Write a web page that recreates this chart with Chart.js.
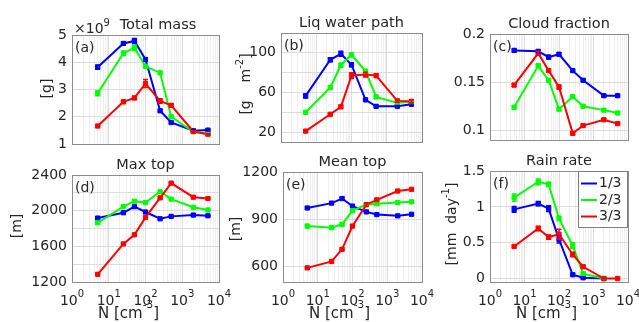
<!DOCTYPE html>
<html>
<head>
<meta charset="utf-8">
<script src="https://cdn.jsdelivr.net/npm/chart.js@4.4.1/dist/chart.umd.min.js"></script>
<style>
  body { margin: 0; background: #fff; }
  #fig { position: relative; width: 639px; height: 322px; overflow: hidden; background: #fff; }
  #fig canvas { position: absolute; }
</style>
</head>
<body>
<div id="fig"></div>
<script>
// droplet number N [cm^-3], shared by all panels
var N = [5, 25, 50, 100, 250, 500, 2000, 5000];
var seriesNames = ['1/3', '2/3', '3/3'];
var seriesColors = ['#0000ff', '#00ff00', '#ff0000'];
var xTickExps = ['0', '1', '2', '3', '4'];

// (a) total mass, x1e9 g
var mass1 = [3.82, 4.69, 4.78, 4.10, 2.22, 1.79, 1.49, 1.51];
var mass2 = [2.86, 4.33, 4.53, 3.85, 3.61, 2.00, 1.45, 1.39];
var mass3 = [1.66, 2.55, 2.69, 3.22, 2.58, 2.42, 1.46, 1.36];
var massErr1 = [0.08, 0.05, 0.09, 0.06, 0.05, 0.04, 0.03, 0.03];
var massErr2 = [0.09, 0.08, 0.10, 0.06, 0.05, 0.05, 0.02, 0.02];
var massErr3 = [0.03, 0.06, 0.06, 0.15, 0.08, 0.05, 0.03, 0.02];

// (b) liquid water path, g m^-2
var lwp1 = [56.5, 93, 99, 88, 52.5, 46, 46, 48];
var lwp2 = [40, 65, 87.5, 98, 81.5, 55.5, 49.5, 50.5];
var lwp3 = [21, 38, 45.5, 77, 78, 77, 51.5, 51];
var lwpErr1 = [2, 2, 2.5, 2, 1.5, 1, 1, 1];
var lwpErr2 = [1.5, 1.5, 2, 2, 1.5, 1, 1, 1];
var lwpErr3 = [1, 1, 1.5, 3, 2.5, 2, 1.5, 1.5];

// (c) cloud fraction
var cf1 = [0.183, 0.182, 0.176, 0.179, 0.162, 0.152, 0.136, 0.136];
var cf2 = [0.124, 0.167, 0.152, 0.122, 0.135, 0.125, 0.121, 0.118];
var cf3 = [0.147, 0.180, 0.162, 0.145, 0.097, 0.105, 0.111, 0.107];
var cfErr1 = [0.0015, 0.0015, 0.002, 0.0015, 0.001, 0.001, 0.001, 0.001];
var cfErr2 = [0.0015, 0.0015, 0.0015, 0.0015, 0.001, 0.001, 0.001, 0.001];
var cfErr3 = [0.0015, 0.002, 0.0015, 0.002, 0.0015, 0.001, 0.001, 0.001];

// (d) max top, m
var maxTop1 = [1917, 1977, 2045, 1985, 1909, 1936, 1951, 1943];
var maxTop2 = [1864, 2045, 2106, 2091, 2212, 2129, 2038, 2008];
var maxTop3 = [1286, 1627, 1730, 1924, 2144, 2309, 2151, 2136];
var maxTopErr1 = [8, 8, 10, 8, 6, 6, 5, 5];
var maxTopErr2 = [10, 8, 10, 8, 8, 6, 5, 5];
var maxTopErr3 = [6, 12, 12, 10, 10, 8, 6, 6];

// (e) mean top, m
var meanTop1 = [971, 1002, 1031, 983, 946, 929, 921, 931];
var meanTop2 = [856, 846, 867, 954, 992, 998, 1006, 1010];
var meanTop3 = [590, 631, 708, 856, 992, 1023, 1079, 1090];
var meanTopErr1 = [8, 8, 8, 6, 5, 5, 4, 4];
var meanTopErr2 = [10, 8, 8, 6, 5, 5, 4, 4];
var meanTopErr3 = [5, 8, 8, 8, 6, 5, 4, 4];

// (f) rain rate, mm day^-1
var rain1 = [0.966, 1.046, 0.976, 0.548, 0.056, 0.014, 0.003, null];
var rain2 = [1.13, 1.35, 1.315, 0.84, 0.46, 0.07, 0.003, null];
var rain3 = [0.45, 0.70, 0.58, 0.62, 0.338, 0.167, 0.003, 0.003];
var rainErr1 = [0.04, 0.03, 0.04, 0.05, 0.02, 0.01, 0.003, 0];
var rainErr2 = [0.05, 0.04, 0.03, 0.03, 0.04, 0.02, 0.003, 0];
var rainErr3 = [0.015, 0.03, 0.03, 0.07, 0.03, 0.02, 0.003, 0.003];

var TXT = '#262626';
var FAMILY = '"DejaVu Sans"';
function font(size) { return size + 'px ' + FAMILY; }

// frame = [left, top, right, bottom] of the plot box in page pixels
var panels = [
  { tag: '(a)', title: 'Total mass', titleX: 158, frame: [72, 35, 219, 144],
    yMin: 1, yMax: 5, yGrid: [1, 2, 3, 4, 5], yLabels: [1, 2, 3, 4, 5],
    yTitle: [['[g]', 0]], yTitleX: 51, yTitleY: 88.5, exponent: true,
    values: [mass1, mass2, mass3], errs: [massErr1, massErr2, massErr3] },
  { tag: '(b)', title: 'Liq water path', frame: [281, 33, 422, 142],
    yMin: 10, yMax: 120, yGrid: [20, 40, 60, 80, 100, 120], yLabels: [20, 60, 100],
    yTitle: [['[g    m', 0], ['-2', 1], [']', 0]], yTitleX: 250, yTitleY: 84,
    values: [lwp1, lwp2, lwp3], errs: [lwpErr1, lwpErr2, lwpErr3] },
  { tag: '(c)', title: 'Cloud fraction', frame: [490, 34, 628, 140],
    yMin: 0.09, yMax: 0.2, yGrid: [0.1, 0.15, 0.2], yLabels: [0.1, 0.15, 0.2],
    values: [cf1, cf2, cf3], errs: [cfErr1, cfErr2, cfErr3] },
  { tag: '(d)', title: 'Max top', frame: [72, 175, 219, 282], xLabels: true,
    yMin: 1200, yMax: 2400, yGrid: [1200, 1400, 1600, 1800, 2000, 2200, 2400], yLabels: [1200, 1600, 2000, 2400],
    yTitle: [['[m]', 0]], yTitleX: 21, yTitleY: 226,
    values: [maxTop1, maxTop2, maxTop3], errs: [maxTopErr1, maxTopErr2, maxTopErr3] },
  { tag: '(e)', title: 'Mean top', frame: [283, 172, 422, 282], xLabels: true,
    yMin: 500, yMax: 1200, yGrid: [600, 900, 1200], yLabels: [600, 900, 1200],
    yTitle: [['[m]', 0]], yTitleX: 240, yTitleY: 229,
    values: [meanTop1, meanTop2, meanTop3], errs: [meanTopErr1, meanTopErr2, meanTopErr3] },
  { tag: '(f)', title: 'Rain rate', frame: [490, 171, 628, 282], xLabels: true, legend: true,
    yMin: -0.045, yMax: 1.5, yGrid: [0, 0.5, 1, 1.5], yLabels: [0, 0.5, 1, 1.5],
    yTitle: [['[mm  day', 0], ['-1', 1], [']', 0]], yTitleX: 456, yTitleY: 224,
    values: [rain1, rain2, rain3], errs: [rainErr1, rainErr2, rainErr3] }
];

var PAD_L = 72, PAD_T = 40, PAD_R = 16, PAD_B = 42;

function richWidth(ctx, parts, size, supSize) {
  var w = 0;
  parts.forEach(function (p) {
    ctx.font = font(p[1] ? supSize : size);
    w += ctx.measureText(p[0]).width;
  });
  return w;
}

function drawRich(ctx, parts, x, y, size, supSize, supShift) {
  var cx = x;
  parts.forEach(function (p) {
    ctx.font = font(p[1] ? supSize : size);
    ctx.fillText(p[0], cx, p[1] ? y - supShift : y);
    cx += ctx.measureText(p[0]).width;
  });
}

function decoPlugin(p, ox, oy) {
  return {
    id: 'deco',
    afterDatasetsDraw: function (chart) {
      var ctx = chart.ctx, xs = chart.scales.x, ys = chart.scales.y;
      ctx.save();
      ctx.lineWidth = 1.5;
      for (var s = 0; s < 3; s++) {
        ctx.strokeStyle = seriesColors[s];
        p.values[s].forEach(function (v, j) {
          if (v === null) return;
          var e = p.errs[s][j];
          var x = xs.getPixelForValue(N[j]);
          var y1 = ys.getPixelForValue(v - e), y2 = ys.getPixelForValue(v + e);
          ctx.beginPath();
          ctx.moveTo(x, y1); ctx.lineTo(x, y2);
          ctx.moveTo(x - 2.5, y1); ctx.lineTo(x + 2.5, y1);
          ctx.moveTo(x - 2.5, y2); ctx.lineTo(x + 2.5, y2);
          ctx.stroke();
        });
      }
      ctx.restore();
    },
    afterDraw: function (chart) {
      var ctx = chart.ctx, a = chart.chartArea, xs = chart.scales.x;
      ctx.save();
      // box
      ctx.strokeStyle = '#8c8c8c';
      ctx.lineWidth = 1;
      ctx.strokeRect(Math.round(a.left) + 0.5, Math.round(a.top) + 0.5,
        Math.round(a.right - a.left), Math.round(a.bottom - a.top));

      ctx.fillStyle = TXT;
      ctx.textBaseline = 'alphabetic';
      // title
      ctx.font = font(14.5);
      ctx.textAlign = 'center';
      var tx = p.titleX !== undefined ? p.titleX - ox : (a.left + a.right) / 2;
      ctx.fillText(p.title, tx, a.top - 6);
      // panel tag
      ctx.textAlign = 'left';
      ctx.font = font(14);
      ctx.fillText(p.tag, a.left + 3, a.top + 17);
      // exponent
      if (p.exponent) {
        drawRich(ctx, [['\u00d710', 0], ['9', 1]], a.left + 2, a.top - 2, 14, 10, 7);
      }
      // y title, rotated
      if (p.yTitle) {
        var w = richWidth(ctx, p.yTitle, 14, 10);
        ctx.save();
        ctx.translate(p.yTitleX - ox, p.yTitleY - oy);
        ctx.rotate(-Math.PI / 2);
        drawRich(ctx, p.yTitle, -w / 2, 0, 14, 10, 7);
        ctx.restore();
      }
      // x tick labels and x title
      if (p.xLabels) {
        xTickExps.forEach(function (ex) {
          var parts = [['10', 0], [ex, 1]];
          var lw = richWidth(ctx, parts, 14, 10);
          var px = xs.getPixelForValue(Math.pow(10, +ex));
          drawRich(ctx, parts, px - lw / 2, a.bottom + 23, 14, 10, 8);
        });
        drawRich(ctx, [['N [cm', 0], ['-3', 1], [']', 0]], a.left + 26, a.bottom + 36, 15, 10.5, 10);
      }
      // legend
      if (p.legend) {
        var bw = 49, bh = 56, bx = Math.round(a.right) - bw - 1, by = Math.round(a.top);
        ctx.fillStyle = '#fff';
        ctx.fillRect(bx, by, bw, bh);
        ctx.strokeStyle = '#7f7f7f';
        ctx.strokeRect(bx + 0.5, by + 0.5, bw, bh);
        ctx.textBaseline = 'middle';
        ctx.font = font(14);
        for (var s = 0; s < 3; s++) {
          var ly = by + 12.5 + s * 16.5;
          ctx.strokeStyle = seriesColors[s];
          ctx.lineWidth = 2;
          ctx.beginPath();
          ctx.moveTo(bx + 3, ly); ctx.lineTo(bx + 19, ly);
          ctx.stroke();
          ctx.fillStyle = TXT;
          ctx.fillText(seriesNames[s], bx + 21, ly);
        }
      }
      ctx.restore();
    }
  };
}

function isDecade(v) {
  var l = Math.log10(v);
  return Math.abs(l - Math.round(l)) < 1e-9;
}

var fig = document.getElementById('fig');
panels.forEach(function (p) {
  var f = p.frame;
  var ox = f[0] - PAD_L, oy = f[1] - PAD_T;
  var cw = (f[2] - f[0]) + PAD_L + PAD_R, chh = (f[3] - f[1]) + PAD_T + PAD_B;
  var cv = document.createElement('canvas');
  cv.width = cw; cv.height = chh;
  cv.style.left = ox + 'px'; cv.style.top = oy + 'px';
  cv.style.width = cw + 'px'; cv.style.height = chh + 'px';
  fig.appendChild(cv);

  var datasets = p.values.map(function (vals, s) {
    return {
      label: seriesNames[s],
      data: vals.map(function (v, j) { return { x: N[j], y: v }; }),
      borderColor: seriesColors[s],
      backgroundColor: seriesColors[s],
      borderWidth: 2,
      pointStyle: 'rect',
      pointRadius: 3,
      pointBorderWidth: 1,
      pointBackgroundColor: seriesColors[s],
      tension: 0,
      spanGaps: false,
      order: 3 - s
    };
  });

  new Chart(cv, {
    type: 'line',
    data: { datasets: datasets },
    options: {
      responsive: false,
      animation: false,
      devicePixelRatio: 1,
      layout: { padding: { left: 0, top: PAD_T, right: PAD_R, bottom: 0 } },
      plugins: { legend: { display: false }, tooltip: { enabled: false } },
      scales: {
        x: {
          type: 'logarithmic', min: 1, max: 10000,
          afterBuildTicks: function (scale) {
            var t = [];
            for (var k = 0; k < 4; k++) {
              for (var m = 1; m < 10; m++) t.push({ value: m * Math.pow(10, k) });
            }
            t.push({ value: 10000 });
            scale.ticks = t;
          },
          afterFit: function (scale) { scale.height = PAD_B; },
          ticks: { display: false },
          grid: {
            drawTicks: false,
            color: function (c) { return c.tick && isDecade(c.tick.value) ? '#dcdcdc' : '#efefef'; }
          },
          border: { display: false }
        },
        y: {
          type: 'linear', min: p.yMin, max: p.yMax,
          afterBuildTicks: function (scale) {
            scale.ticks = p.yGrid.map(function (v) { return { value: v }; });
          },
          afterFit: function (scale) { scale.width = PAD_L; },
          ticks: {
            autoSkip: false,
            padding: 5,
            color: TXT,
            font: { family: 'DejaVu Sans', size: 14 },
            callback: function (v) { return p.yLabels.indexOf(v) >= 0 ? String(v) : ''; }
          },
          grid: { drawTicks: false, color: '#dcdcdc' },
          border: { display: false }
        }
      }
    },
    plugins: [decoPlugin(p, ox, oy)]
  });
});
</script>
</body>
</html>
